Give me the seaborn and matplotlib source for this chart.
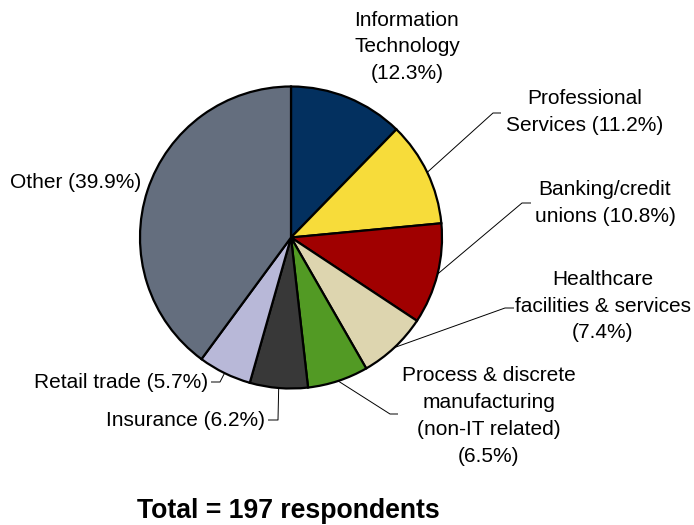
import numpy as np
import matplotlib
matplotlib.use("Agg")
import matplotlib.pyplot as plt
import seaborn as sns

categories = ["Information Technology", "Professional Services", "Banking/credit unions",
              "Healthcare facilities & services", "Process & discrete manufacturing (non-IT related)",
              "Insurance", "Retail trade", "Other"]
values = [12.3, 11.2, 10.8, 7.4, 6.5, 6.2, 5.7, 39.9]
labels = ["Information\nTechnology\n(12.3%)", "Professional\nServices (11.2%)",
          "Banking/credit\nunions (10.8%)", "Healthcare\nfacilities & services\n(7.4%)",
          "Process & discrete\nmanufacturing\n(non-IT related)\n(6.5%)",
          "Insurance (6.2%)", "Retail trade (5.7%)", "Other (39.9%)"]
colors = ["#03305F", "#F7DC3A", "#A00000", "#DDD5AF", "#529A24", "#383838", "#B8B8D8", "#646E7E"]
total_text = "Total = 197 respondents"

sns.set_theme(style="white")
plt.rcParams["font.family"] = ["Liberation Sans", "DejaVu Sans"]
plt.rcParams["text.color"] = "black"

W, H = 694, 525
fig = plt.figure(figsize=(W / 100, H / 100), dpi=100)
ax = fig.add_axes([0, 0, 1, 1])

cx, cy, R = 291, H - 237.5, 151
wedges, _ = ax.pie(values, colors=colors, startangle=90, counterclock=False,
                   center=(cx, cy), radius=R, frame=True,
                   wedgeprops=dict(edgecolor="black", linewidth=1.6))
ax.set_xlim(0, W)
ax.set_ylim(0, H)
ax.axis("off")

def py(y):
    return H - y

fs = 15
specs = [
    (407, 47, "center", None),
    (585, 112, "center", [(493, 113), (501, 113)]),
    (605, 203, "center", [(522, 203), (531, 203)]),
    (603, 306, "center", [(505, 308), (514, 308)]),
    (489, 416, "center", [(390, 414), (398, 414)]),
    (265, 420, "right", [(278, 420), (268, 420)]),
    (208, 382, "right", [(220, 382), (211, 382)]),
    (10, 183, "left", None),
]
for w, lab, (x, y, ha, elbow) in zip(wedges, labels, specs):
    ax.text(x, py(y), lab, ha=ha, va="center", fontsize=fs, linespacing=1.52,
            multialignment="center", color="black")
    if elbow:
        ang = np.deg2rad((w.theta1 + w.theta2) / 2)
        sx, sy = cx + R * np.cos(ang), cy + R * np.sin(ang)
        xs = [sx] + [e[0] for e in elbow]
        ys = [sy] + [py(e[1]) for e in elbow]
        ax.plot(xs, ys, color="black", linewidth=0.7, solid_capstyle="butt")

ax.text(288, py(511), total_text, ha="center", va="center", fontsize=19.2,
        fontweight="bold", color="black")

fig.savefig("out.png", dpi=100)
